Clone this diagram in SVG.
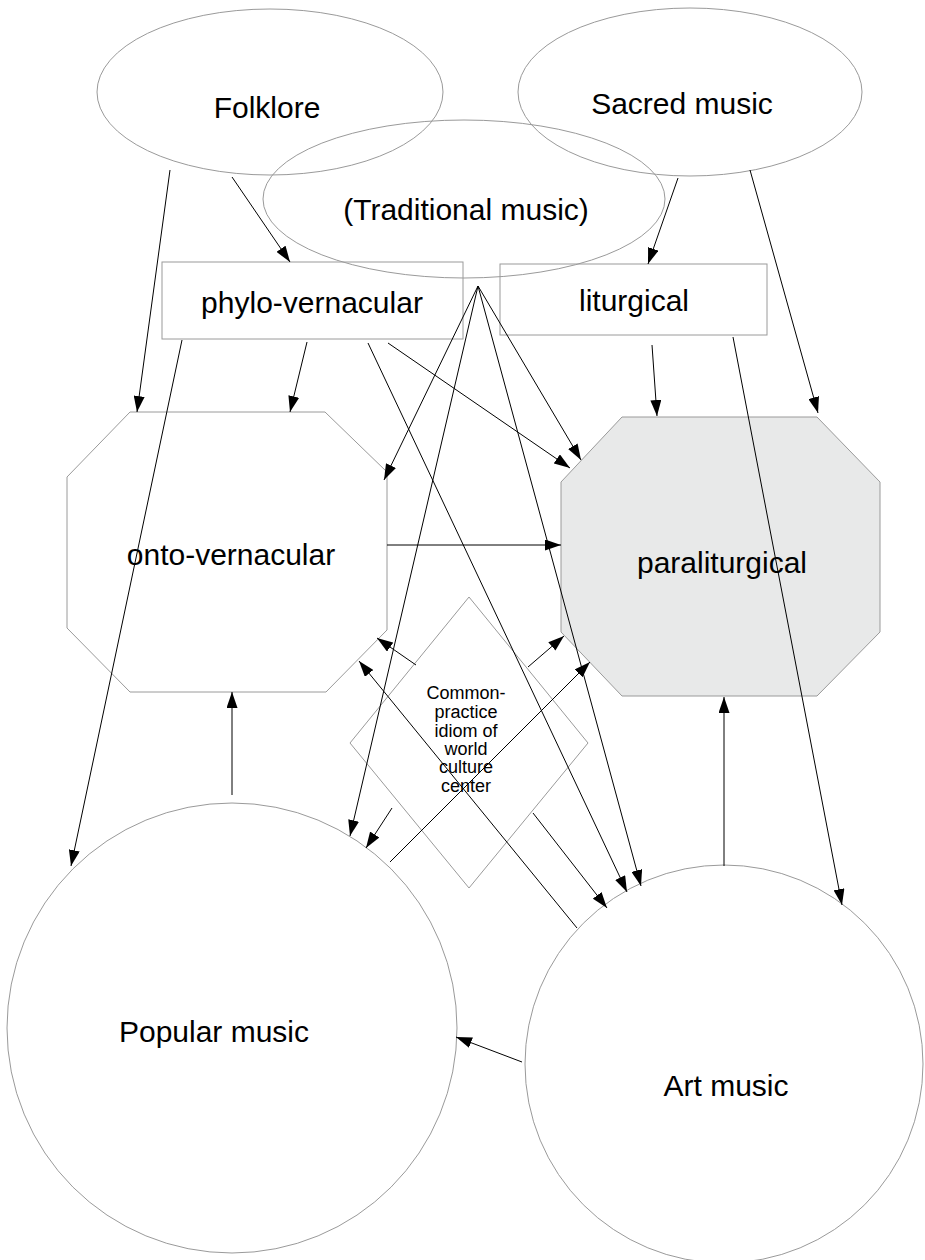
<svg xmlns="http://www.w3.org/2000/svg" width="925" height="1260" viewBox="0 0 925 1260">
<style>
.n{fill:none;stroke:#9a9a9a;stroke-width:1}
.g{fill:#e8e9e9;stroke:#9a9a9a;stroke-width:1}
.t{font-family:"Liberation Sans",Arial,sans-serif;font-size:30px;fill:#000;text-anchor:middle}
.s{font-family:"Liberation Sans",Arial,sans-serif;font-size:18px;fill:#000;text-anchor:middle}
.c{fill:none;stroke:#000;stroke-width:1;marker-end:url(#ah)}
</style>
<defs>
<marker id="ah" markerUnits="userSpaceOnUse" markerWidth="16" markerHeight="11" refX="16" refY="5.5" orient="auto">
<path d="M0,0 L16,5.5 L0,11 z" fill="#000"/>
</marker>
</defs>
<rect width="925" height="1260" fill="#fff"/>
<g id="folklore"><ellipse class="n" cx="270" cy="92" rx="173" ry="83"/><text class="t" x="267" y="118">Folklore</text></g>
<g id="sacred"><ellipse class="n" cx="690" cy="92" rx="172" ry="84"/><text class="t" x="682" y="114">Sacred music</text></g>
<g id="traditional"><ellipse class="n" cx="464" cy="199" rx="201" ry="79"/><text class="t" x="466" y="220">(Traditional music)</text></g>
<g id="phylo"><rect class="n" x="162" y="262" width="301" height="77"/><text class="t" x="312" y="313">phylo-vernacular</text></g>
<g id="liturgical"><rect class="n" x="500" y="264" width="267" height="71"/><text class="t" x="634" y="311">liturgical</text></g>
<g id="onto"><polygon class="n" points="130,412 325,412 387,472 387,630 326,692 130,692 67,628 67,477"/><text class="t" x="231" y="565">onto-vernacular</text></g>
<g id="paraliturgical"><polygon class="g" points="622,417 817,417 880,482 880,632 817,696 622,696 561,632 561,482"/><text class="t" x="722" y="573">paraliturgical</text></g>
<g id="common"><polygon class="n" points="469,597 588,743 469,888 350,743"/>
<text class="s" x="466" y="699">Common-</text><text class="s" x="466" y="718">practice</text><text class="s" x="466" y="737">idiom of</text><text class="s" x="466" y="755">world</text><text class="s" x="466" y="773">culture</text><text class="s" x="466" y="792">center</text></g>
<g id="popular"><circle class="n" cx="232" cy="1028" r="225"/><text class="t" x="214" y="1042">Popular music</text></g>
<g id="art"><circle class="n" cx="724" cy="1064" r="199"/><text class="t" x="726" y="1096">Art music</text></g>
<g id="connectors">
<path class="c" d="M170,170 L137,412"/>
<path class="c" d="M232,177 L290,262"/>
<path class="c" d="M678,178 L648,264"/>
<path class="c" d="M750,170 L818,413"/>
<path class="c" d="M182,340 L71,866"/>
<path class="c" d="M307,342 L290,412"/>
<path class="c" d="M368,343 L627,892"/>
<path class="c" d="M388,343 L570,468"/>
<path class="c" d="M652,345 L657,416"/>
<path class="c" d="M733,337 L842,905"/>
<path class="c" d="M478,286 L384,480"/>
<path class="c" d="M478,286 L350,836"/>
<path class="c" d="M478,286 L581,460"/>
<path class="c" d="M478,286 L641,886"/>
<path class="c" d="M387,545 L561,545"/>
<path class="c" d="M232,795 L232,692"/>
<path class="c" d="M724,866 L724,697"/>
<path class="c" d="M522,1062 L456,1037"/>
<path class="c" d="M577,928 L359,661"/>
<path class="c" d="M390,862 L590,662"/>
<path class="c" d="M416,665 L377,638"/>
<path class="c" d="M528,667 L564,636"/>
<path class="c" d="M392,808 L366,848"/>
<path class="c" d="M533,813 L607,908"/>
</g>
</svg>
